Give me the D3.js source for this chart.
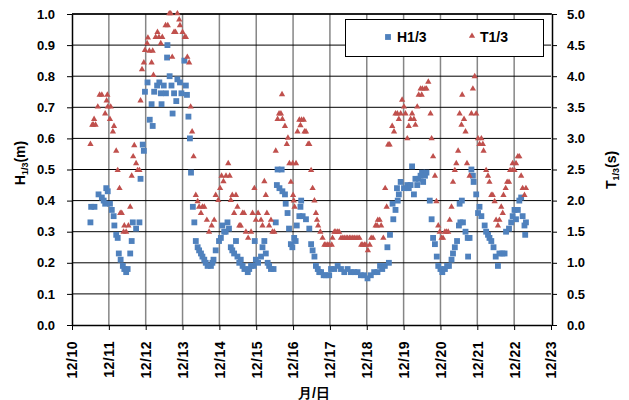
<!DOCTYPE html>
<html>
<head>
<meta charset="utf-8">
<script src="https://cdn.jsdelivr.net/npm/d3@7"></script>
<style>
  body { margin: 0; background: #fff; }
  text { font-family: "Liberation Sans", Arial, sans-serif; font-weight: bold; }
</style>
</head>
<body>
<div id="container"></div>
<script>
// svg size
const width = 629;
const height = 400;

// plot area
const plotLeft = 72;
const plotRight = 551;
const plotTop = 14;
const plotBottom = 325;

// x axis days (December)
const dayTicks = [10, 11, 12, 13, 14, 15, 16, 17, 18, 19, 20, 21, 22, 23];
const hTicks = [0, 0.1, 0.2, 0.3, 0.4, 0.5, 0.6, 0.7, 0.8, 0.9, 1.0];
const tTicks = [0, 0.5, 1.0, 1.5, 2.0, 2.5, 3.0, 3.5, 4.0, 4.5, 5.0];

// H1/3 (m): [day, value]
const h13 = [
  [10.50,0.33],[10.52,0.38],[10.61,0.38],[10.72,0.42],[10.81,0.41],[10.86,0.40],[10.90,0.39],[10.93,0.44],
  [10.97,0.43],[11.03,0.39],[11.08,0.37],[11.13,0.35],[11.15,0.32],[11.20,0.29],[11.24,0.28],[11.27,0.23],
  [11.32,0.21],[11.38,0.19],[11.42,0.18],[11.47,0.17],[11.51,0.18],[11.58,0.23],[11.62,0.27],[11.65,0.33],
  [11.74,0.31],[11.83,0.33],[11.86,0.47],[11.92,0.58],[11.95,0.56],[11.98,0.75],[12.05,0.78],[12.11,0.66],
  [12.16,0.71],[12.19,0.64],[12.23,0.75],[12.31,0.77],[12.37,0.78],[12.41,0.745],[12.43,0.71],[12.49,0.77],
  [12.55,0.745],[12.58,0.86],[12.59,0.90],[12.65,0.80],[12.70,0.77],[12.73,0.68],[12.77,0.745],[12.83,0.72],
  [12.86,0.79],[12.93,0.78],[12.97,0.745],[13.05,0.85],[13.09,0.77],[13.12,0.74],[13.16,0.67],[13.20,0.60],
  [13.23,0.49],[13.28,0.38],[13.32,0.33],[13.36,0.27],[13.41,0.25],[13.45,0.24],[13.50,0.23],[13.54,0.22],
  [13.59,0.21],[13.63,0.20],[13.68,0.19],[13.77,0.19],[13.81,0.20],[13.84,0.21],[13.90,0.24],[13.99,0.27],
  [14.04,0.28],[14.08,0.32],[14.13,0.30],[14.17,0.30],[14.22,0.33],[14.26,0.31],[14.31,0.25],[14.35,0.24],
  [14.40,0.23],[14.45,0.27],[14.49,0.22],[14.54,0.20],[14.58,0.21],[14.63,0.19],[14.68,0.18],[14.77,0.17],
  [14.81,0.18],[14.86,0.19],[14.93,0.19],[14.96,0.27],[14.99,0.21],[15.05,0.20],[15.13,0.22],[15.17,0.25],
  [15.22,0.27],[15.26,0.23],[15.31,0.20],[15.35,0.19],[15.40,0.18],[15.47,0.18],[15.53,0.33],[15.56,0.45],
  [15.58,0.50],[15.63,0.44],[15.69,0.50],[15.71,0.43],[15.78,0.42],[15.80,0.39],[15.85,0.36],[15.89,0.31],
  [15.94,0.26],[15.98,0.25],[16.03,0.28],[16.07,0.27],[16.10,0.32],[16.17,0.35],[16.20,0.38],[16.22,0.40],
  [16.26,0.35],[16.35,0.34],[16.44,0.31],[16.49,0.26],[16.53,0.24],[16.58,0.22],[16.62,0.19],[16.67,0.18],
  [16.71,0.17],[16.76,0.17],[16.83,0.16],[16.89,0.16],[16.98,0.16],[17.03,0.18],[17.12,0.18],[17.21,0.19],
  [17.30,0.18],[17.39,0.17],[17.48,0.18],[17.57,0.17],[17.66,0.17],[17.75,0.17],[17.84,0.16],[17.93,0.16],
  [18.02,0.15],[18.11,0.16],[18.20,0.17],[18.29,0.17],[18.36,0.19],[18.42,0.18],[18.49,0.19],[18.56,0.25],
  [18.60,0.20],[18.63,0.29],[18.70,0.39],[18.72,0.34],[18.78,0.37],[18.82,0.44],[18.84,0.40],[18.87,0.42],
  [18.92,0.46],[19.01,0.44],[19.10,0.45],[19.14,0.44],[19.19,0.45],[19.23,0.51],[19.28,0.42],[19.32,0.47],
  [19.37,0.45],[19.41,0.47],[19.46,0.48],[19.50,0.49],[19.53,0.46],[19.58,0.48],[19.62,0.49],[19.71,0.40],
  [19.76,0.34],[19.80,0.28],[19.85,0.26],[19.90,0.22],[19.94,0.19],[20.00,0.18],[20.05,0.17],[20.12,0.18],
  [20.18,0.19],[20.23,0.19],[20.30,0.21],[20.34,0.23],[20.39,0.25],[20.45,0.27],[20.50,0.32],[20.52,0.39],
  [20.54,0.33],[20.58,0.40],[20.61,0.33],[20.68,0.30],[20.74,0.28],[20.75,0.22],[20.79,0.28],[20.84,0.50],
  [20.88,0.48],[20.90,0.46],[20.97,0.42],[21.02,0.36],[21.06,0.38],[21.11,0.35],[21.20,0.32],[21.24,0.30],
  [21.29,0.29],[21.33,0.28],[21.38,0.27],[21.44,0.25],[21.50,0.22],[21.56,0.19],[21.60,0.23],[21.68,0.23],
  [21.74,0.23],[21.78,0.30],[21.86,0.31],[21.92,0.33],[21.96,0.35],[22.01,0.37],[22.05,0.34],[22.10,0.37],
  [22.14,0.40],[22.19,0.41],[22.23,0.35],[22.28,0.32],[22.30,0.29],[22.32,0.33]
];

// T1/3 (s): [day, value]
const t13 = [
  [10.50,2.90],[10.55,3.21],[10.58,3.21],[10.60,3.30],[10.64,3.21],[10.70,3.50],[10.75,3.69],[10.81,3.69],
  [10.90,3.39],[10.94,3.60],[10.96,3.69],[10.97,3.50],[11.03,3.30],[11.05,3.50],[11.11,3.10],[11.14,3.19],
  [11.20,2.79],[11.24,2.48],[11.29,2.19],[11.31,1.79],[11.35,1.79],[11.40,1.49],[11.42,1.59],[11.47,1.49],
  [11.53,1.59],[11.58,1.89],[11.62,2.39],[11.66,2.70],[11.69,2.88],[11.74,2.59],[11.78,2.48],[11.83,2.48],
  [11.86,3.60],[11.90,4.10],[11.95,4.21],[11.98,4.41],[12.04,4.52],[12.06,4.61],[12.10,4.40],[12.16,4.21],
  [12.19,4.40],[12.21,4.01],[12.27,4.62],[12.32,4.70],[12.36,4.62],[12.41,4.52],[12.45,4.62],[12.54,4.81],
  [12.60,4.81],[12.64,5.00],[12.68,5.00],[12.72,4.30],[12.77,4.70],[12.81,4.70],[12.86,5.00],[12.91,4.90],
  [12.93,4.81],[13.00,4.70],[13.06,4.62],[13.09,4.62],[13.13,4.30],[13.18,4.21],[13.22,3.50],[13.26,3.10],
  [13.30,2.70],[13.36,2.08],[13.41,1.98],[13.45,1.89],[13.50,1.79],[13.54,1.89],[13.59,1.89],[13.66,1.68],
  [13.72,1.49],[13.79,1.59],[13.86,1.68],[13.90,2.08],[13.97,2.00],[14.02,2.19],[14.06,2.39],[14.11,2.30],
  [14.18,2.39],[14.24,2.59],[14.28,2.39],[14.31,2.00],[14.35,2.08],[14.40,1.79],[14.45,2.08],[14.49,1.89],
  [14.54,1.59],[14.58,1.59],[14.63,1.79],[14.67,1.79],[14.72,1.49],[14.78,1.39],[14.86,1.49],[14.90,1.79],
  [14.95,2.19],[14.99,1.68],[15.05,1.79],[15.13,1.68],[15.17,1.59],[15.22,2.30],[15.26,2.08],[15.29,1.79],
  [15.35,1.59],[15.40,1.68],[15.44,1.49],[15.49,1.49],[15.53,2.79],[15.58,3.30],[15.62,3.39],[15.67,3.39],
  [15.70,3.70],[15.71,3.30],[15.78,3.19],[15.83,2.90],[15.86,3.00],[15.90,2.59],[15.94,2.29],[15.99,2.59],
  [16.00,2.08],[16.02,1.99],[16.04,1.89],[16.08,2.59],[16.12,3.10],[16.17,3.29],[16.20,3.20],[16.23,3.29],
  [16.29,3.29],[16.31,3.10],[16.35,3.10],[16.41,2.90],[16.44,2.90],[16.49,2.48],[16.53,2.19],[16.58,1.99],
  [16.62,1.79],[16.65,1.68],[16.68,1.59],[16.74,1.49],[16.80,1.39],[16.85,1.28],[16.89,1.28],[16.94,1.28],
  [16.98,1.28],[17.05,1.28],[17.07,1.39],[17.12,1.49],[17.16,1.49],[17.21,1.49],[17.25,1.49],[17.30,1.39],
  [17.35,1.39],[17.39,1.39],[17.44,1.39],[17.48,1.39],[17.53,1.39],[17.57,1.39],[17.62,1.39],[17.66,1.39],
  [17.71,1.39],[17.76,1.39],[17.80,1.39],[17.85,1.28],[17.89,1.28],[17.94,1.28],[17.98,1.28],[18.03,1.19],
  [18.08,1.28],[18.12,1.39],[18.17,1.39],[18.24,1.59],[18.28,1.59],[18.30,1.68],[18.35,1.68],[18.39,1.59],
  [18.45,1.39],[18.50,2.19],[18.54,1.89],[18.58,2.89],[18.62,2.89],[18.69,3.19],[18.74,3.10],[18.78,3.39],
  [18.83,3.39],[18.87,3.30],[18.92,3.39],[18.96,3.61],[19.01,3.50],[19.05,3.39],[19.10,2.99],[19.14,3.19],
  [19.19,3.30],[19.23,3.39],[19.28,3.30],[19.32,3.21],[19.37,3.50],[19.41,3.69],[19.46,3.79],[19.49,3.69],
  [19.51,3.79],[19.58,3.79],[19.62,3.79],[19.67,3.90],[19.73,3.39],[19.76,2.99],[19.80,2.70],[19.85,2.39],
  [19.89,1.98],[19.94,1.59],[19.98,1.49],[20.03,1.39],[20.07,1.39],[20.12,1.49],[20.16,1.49],[20.21,1.49],
  [20.25,1.68],[20.30,1.89],[20.34,2.29],[20.39,2.48],[20.43,2.59],[20.48,2.79],[20.52,3.39],[20.57,3.21],
  [20.59,3.69],[20.64,3.30],[20.68,3.10],[20.72,2.59],[20.79,2.39],[20.84,3.39],[20.88,3.79],[20.93,3.99],
  [20.97,3.39],[21.02,2.99],[21.06,2.90],[21.11,2.99],[21.15,2.90],[21.17,2.79],[21.24,2.48],[21.29,2.39],
  [21.33,2.29],[21.38,2.08],[21.42,2.08],[21.47,1.98],[21.51,1.68],[21.56,1.59],[21.60,1.68],[21.65,1.89],
  [21.69,1.79],[21.71,2.08],[21.77,2.19],[21.81,2.29],[21.86,2.29],[21.89,2.48],[21.95,2.48],[21.96,2.59],
  [22.01,2.48],[22.05,2.59],[22.10,2.70],[22.14,2.70],[22.19,2.39],[22.23,2.19],[22.28,2.08],[22.32,2.19]
];

// colours
const hColor = "#4f81bd";
const tColor = "#c0504d";
const vGridColor = "#868686";

const svg = d3.select("#container").append("svg")
    .attr("width", width)
    .attr("height", height);

const x = d3.scaleLinear().domain([10, 23]).range([plotLeft, plotRight]);
const yH = d3.scaleLinear().domain([0, 1]).range([plotBottom, plotTop]);
const yT = d3.scaleLinear().domain([0, 5]).range([plotBottom, plotTop]);

// gridlines
svg.append("g")
  .selectAll("line")
  .data(dayTicks.slice(1, -1))
  .join("line")
    .attr("x1", d => x(d)).attr("x2", d => x(d))
    .attr("y1", plotTop).attr("y2", plotBottom)
    .attr("stroke", vGridColor)
    .attr("stroke-width", 1.5);

svg.append("g")
  .selectAll("line")
  .data(hTicks.slice(1))
  .join("line")
    .attr("x1", plotLeft).attr("x2", plotRight)
    .attr("y1", d => yH(d)).attr("y2", d => yH(d))
    .attr("stroke", "#000")
    .attr("stroke-width", 1);

// axes
const tickFmt = d3.format(".1f");

const gx = svg.append("g")
    .attr("transform", `translate(0,${plotBottom})`)
    .call(d3.axisBottom(x).tickValues(dayTicks).tickSize(5).tickSizeOuter(0).tickFormat(d => `12/${d}`));
gx.selectAll("text")
    .attr("transform", "rotate(-90)")
    .attr("text-anchor", "end")
    .attr("x", -16)
    .attr("y", 0)
    .attr("dy", "0.35em")
    .attr("font-size", 14)
    .attr("letter-spacing", 0.5);

const gl = svg.append("g")
    .attr("transform", `translate(${plotLeft},0)`)
    .call(d3.axisLeft(yH).tickValues(hTicks).tickSize(5).tickSizeOuter(0).tickFormat(tickFmt));
gl.selectAll("text").attr("x", -17).attr("font-size", 13);

const gr = svg.append("g")
    .attr("transform", `translate(${plotRight + 1},0)`)
    .call(d3.axisRight(yT).tickValues(tTicks).tickSize(5).tickSizeOuter(0).tickFormat(tickFmt));
gr.selectAll("text").attr("x", 15).attr("font-size", 13);

[gx, gl, gr].forEach(g => {
  g.select(".domain").attr("stroke", "#000").attr("stroke-width", 1.5);
  g.selectAll(".tick line").attr("stroke", "#000");
  g.selectAll("text").attr("fill", "#000").attr("font-family", null);
});

// top border
svg.append("line")
    .attr("x1", plotLeft).attr("x2", plotRight + 1)
    .attr("y1", yH(1)).attr("y2", yH(1))
    .attr("stroke", "#000").attr("stroke-width", 1.5);

// series
const square = d3.symbol().type(d3.symbolSquare).size(34);
const triangle = d3.symbol().type(d3.symbolTriangle).size(17);

svg.append("g")
  .selectAll("path")
  .data(h13)
  .join("path")
    .attr("d", square)
    .attr("transform", d => `translate(${x(d[0])},${yH(d[1])})`)
    .attr("fill", hColor);

svg.append("g")
  .selectAll("path")
  .data(t13)
  .join("path")
    .attr("d", triangle)
    .attr("transform", d => `translate(${x(d[0])},${yT(d[1]) - 0.5})`)
    .attr("fill", tColor);

// legend
const legend = svg.append("g");
legend.append("rect")
    .attr("x", 345.5).attr("y", 19.5)
    .attr("width", 198).attr("height", 37)
    .attr("fill", "#fff").attr("stroke", "#000").attr("stroke-width", 1);
legend.append("path")
    .attr("d", square)
    .attr("transform", "translate(388,37)")
    .attr("fill", hColor);
legend.append("text")
    .attr("x", 397).attr("y", 42)
    .attr("font-size", 14)
    .text("H1/3");
legend.append("path")
    .attr("d", triangle)
    .attr("transform", "translate(472,36)")
    .attr("fill", tColor);
legend.append("text")
    .attr("x", 480).attr("y", 42)
    .attr("font-size", 14)
    .text("T1/3");

// axis titles
const leftTitle = svg.append("text")
    .attr("transform", "translate(25,163) rotate(-90)")
    .attr("text-anchor", "middle")
    .attr("font-size", 14);
leftTitle.append("tspan").text("H");
leftTitle.append("tspan").attr("font-size", 9).attr("dy", 3).text("1/3");
leftTitle.append("tspan").attr("dy", -3).text("(m)");

const rightTitle = svg.append("text")
    .attr("transform", "translate(616,170) rotate(-90)")
    .attr("text-anchor", "middle")
    .attr("font-size", 14);
rightTitle.append("tspan").text("T");
rightTitle.append("tspan").attr("font-size", 9).attr("dy", 3).text("1/3");
rightTitle.append("tspan").attr("dy", -3).text("(s)");

svg.append("text")
    .attr("x", 314).attr("y", 398)
    .attr("text-anchor", "middle")
    .attr("font-size", 14)
    .attr("font-family", "'Noto Sans CJK JP', sans-serif")
    .text("月/日");
</script>
</body>
</html>
